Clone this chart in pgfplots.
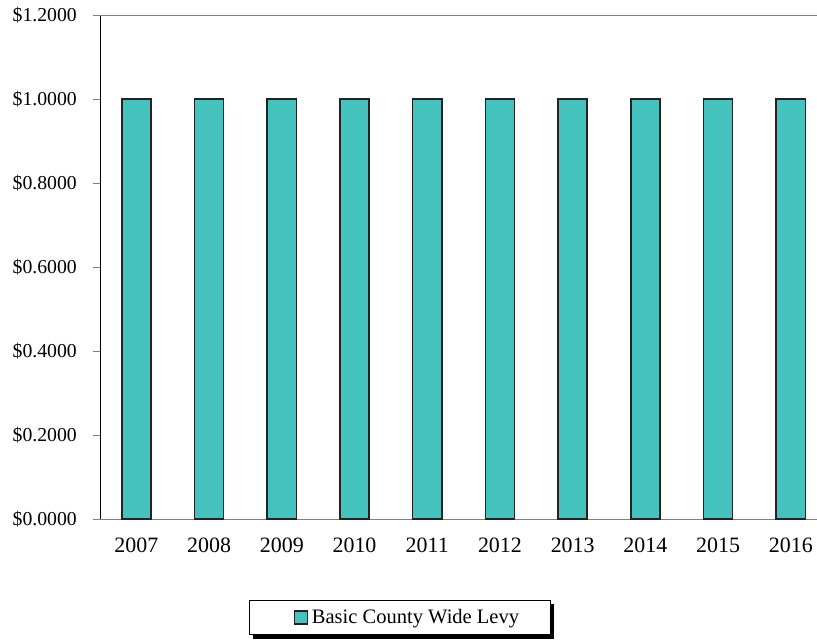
\documentclass[border=0pt]{standalone}
\usepackage{pgfplots}
\pgfplotsset{compat=1.18}
\usepackage{fontspec}
\setmainfont{Liberation Serif}
\usetikzlibrary{backgrounds}
\definecolor{barfill}{RGB}{69,193,190}
\definecolor{baredge}{RGB}{35,35,35}
\begin{document}
\begin{tikzpicture}[x=1bp,y=1bp]
\begin{axis}[
  at={(0,0)}, anchor=south west,
  scale only axis, width=717bp, height=504bp,
  xmin=-0.5, xmax=9.36, ymin=0, ymax=1.2,
  axis lines*=left,
  x axis line style={draw=black!50, line width=0.8pt},
  y axis line style={draw=black, line width=0.8pt},
  xtick={0,...,9},
  xticklabels={2007,2008,2009,2010,2011,2012,2013,2014,2015,2016},
  x tick style={draw=none},
  ytick={0,0.2,0.4,0.6,0.8,1.0,1.2},
  yticklabels={\$0.0000,\$0.2000,\$0.4000,\$0.6000,\$0.8000,\$1.0000,\$1.2000},
  y tick style={draw=black!50, line width=0.8pt},
  tick align=outside, major tick length=7bp,
  yticklabel style={inner sep=0pt, xshift=-16bp, font=\fontsize{19.8}{22}\selectfont},
  xticklabel style={inner sep=0pt, yshift=-12bp, anchor=north, font=\fontsize{22}{24}\selectfont},
  ybar, bar width=0.4,
  legend style={name=leg, at={(0.418,-0.1954)}, anchor=center, draw=black, line width=0.6pt,
    fill=white, font=\fontsize{20.6}{22}\selectfont, inner xsep=29bp, inner ysep=7bp,
    legend cell align=left},
  legend image code/.code={\path (-15bp,0) (15bp,0);
    \draw[#1, line width=1.2pt] (0bp,-6.5bp) rectangle (13bp,6.5bp);},
  clip=false,
]
\addplot[fill=barfill, draw=baredge, line width=1.6pt] coordinates {
  (0,1) (1,1) (2,1) (3,1) (4,1) (5,1) (6,1) (7,1) (8,1) (9,1)};
\addlegendentry{Basic County Wide Levy}
\draw[black!50, line width=0.8pt] (rel axis cs:0,1) -- (rel axis cs:1,1);
\end{axis}
\begin{scope}[on background layer]
\fill[black] ([shift={(4bp,-4bp)}]leg.south west) rectangle ([shift={(4bp,-4bp)}]leg.north east);
\end{scope}
\pgfresetboundingbox
\path[use as bounding box] (-100bp,-123bp) rectangle (717bp,519bp);
\end{tikzpicture}
\end{document}
